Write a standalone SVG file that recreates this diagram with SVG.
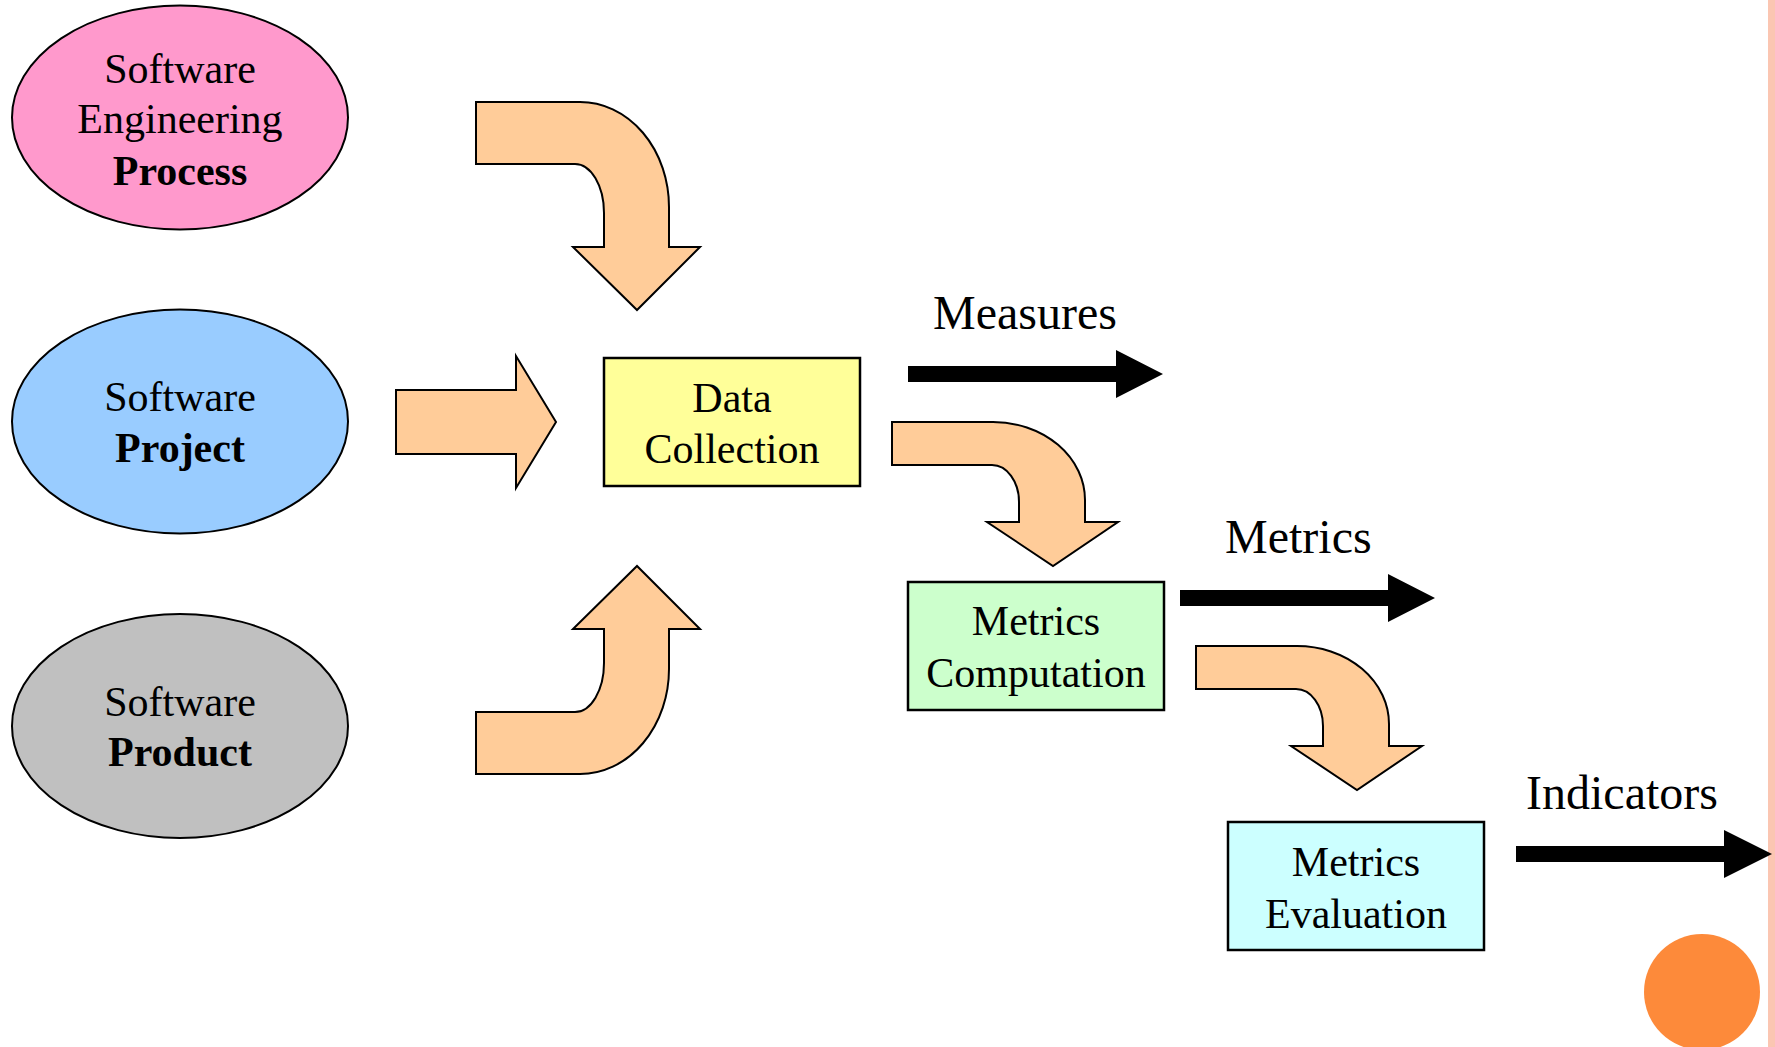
<svg xmlns="http://www.w3.org/2000/svg" width="1775" height="1047" viewBox="0 0 1775 1047">
<style>
text{font-family:"Liberation Serif","Times New Roman",serif;fill:#000}
.node{font-size:42px;text-anchor:middle}
.lbl{font-size:48px}
.b{font-weight:bold}
.ell{stroke:#000;stroke-width:2}
.box{stroke:#000;stroke-width:2.5}
.blk{fill:#FFCC99;stroke:#000;stroke-width:2;stroke-linejoin:miter}
.thick{fill:#000}
</style>
<defs>
<path id="bendDown" d="M476,102 L580,102 A89,105 0 0 1 669,207 L669,247 L700,247 L637,310 L573,247 L604,247 L604,213 A29,49 0 0 0 575,164 L476,164 Z"/>
<path id="bendSmall" d="M892,422 L993,422 A92,78 0 0 1 1085,500 L1085,522 L1118,522 L1053,566 L987,522 L1019,522 L1019,502 A27,37 0 0 0 992,465 L892,465 Z"/>
</defs>
<rect width="1775" height="1047" fill="#fff"/>
<rect x="1768" y="0" width="7" height="1047" fill="#FBC6B2"/>
<circle cx="1702" cy="992" r="58" fill="#FD8A3A"/>

<g id="node-process">
<ellipse class="ell" cx="180" cy="117.5" rx="168" ry="112" fill="#FF99CC"/>
<text class="node" x="180" y="83">Software</text>
<text class="node" x="180" y="133">Engineering</text>
<text class="node b" x="180" y="185">Process</text>
</g>
<g id="node-project">
<ellipse class="ell" cx="180" cy="421.5" rx="168" ry="112" fill="#99CCFF"/>
<text class="node" x="180" y="411">Software</text>
<text class="node b" x="180" y="462">Project</text>
</g>
<g id="node-product">
<ellipse class="ell" cx="180" cy="726" rx="168" ry="112" fill="#C0C0C0"/>
<text class="node" x="180" y="716">Software</text>
<text class="node b" x="180" y="766">Product</text>
</g>
<g id="node-data-collection">
<rect class="box" x="604" y="358" width="256" height="128" fill="#FFFF99"/>
<text class="node" x="732" y="412">Data</text>
<text class="node" x="732" y="463">Collection</text>
</g>
<g id="node-metrics-computation">
<rect class="box" x="908" y="582" width="256" height="128" fill="#CCFFCC"/>
<text class="node" x="1036" y="635">Metrics</text>
<text class="node" x="1036" y="687">Computation</text>
</g>
<g id="node-metrics-evaluation">
<rect class="box" x="1228" y="822" width="256" height="128" fill="#CCFFFF"/>
<text class="node" x="1356" y="876">Metrics</text>
<text class="node" x="1356" y="928">Evaluation</text>
</g>

<g id="connectors">
<use href="#bendDown" class="blk"/>
<use href="#bendDown" class="blk" transform="matrix(1,0,0,-1,0,876)"/>
<path class="blk" d="M396,390 L516,390 L516,356 L556,422 L516,488 L516,454 L396,454 Z"/>
<use href="#bendSmall" class="blk"/>
<use href="#bendSmall" class="blk" transform="translate(304,224)"/>
<path class="thick" d="M908,366 L1116,366 L1116,350 L1163,374 L1116,398 L1116,382 L908,382 Z"/>
<path class="thick" d="M1180,590 L1388,590 L1388,574 L1435,598 L1388,622 L1388,606 L1180,606 Z"/>
<path class="thick" d="M1516,846 L1724,846 L1724,830 L1772,854 L1724,878 L1724,862 L1516,862 Z"/>
<text class="lbl" x="933" y="329">Measures</text>
<text class="lbl" x="1225" y="553">Metrics</text>
<text class="lbl" x="1526" y="809">Indicators</text>
</g>
</svg>
